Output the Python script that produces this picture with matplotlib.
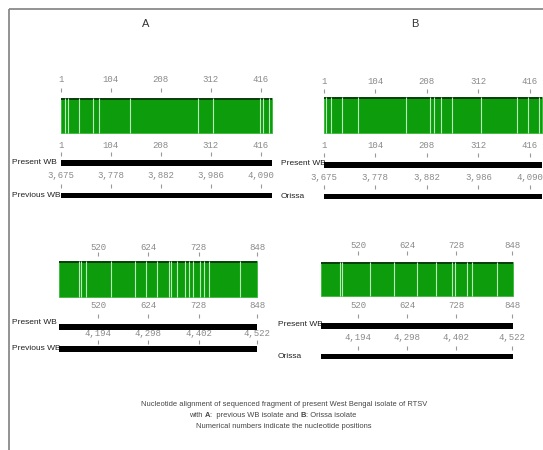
import matplotlib
matplotlib.use('Agg')
import matplotlib.pyplot as plt

W, H = 543, 450
fig = plt.figure(figsize=(W / 100, H / 100), dpi=100)
fig.patch.set_facecolor('white')

# ---------------- data ----------------
panel_titles = ['A', 'B']
query_name = 'Present WB'
ref_names = ['Previous WB', 'Orissa']
seg1_range = (1, 439)
seg2_range = (440, 848)
seg1_ticks = [1, 104, 208, 312, 416]
seg2_ticks = [520, 624, 728, 848]
seg1_ref_labels = ['3,675', '3,778', '3,882', '3,986', '4,090']
seg2_ref_labels = ['4,194', '4,298', '4,402', '4,522']
mism_A1 = [9, 16, 38, 68, 80, 144, 286, 317, 414, 421, 433]
mism_A2 = [480, 485, 495, 547, 596, 618, 642, 666, 671, 683, 700, 707,
           717, 731, 739, 750, 812]
mism_B1 = [6, 16, 37, 70, 166, 215, 223, 236, 258, 317, 390, 412, 435]
mism_B2 = [481, 485, 545, 597, 644, 685, 720, 726, 751, 763, 815]
caption1 = 'Nucleotide alignment of sequenced fragment of present West Bengal isolate of RTSV'
caption2_parts = [('with ', 'normal'), ('A', 'bold'),
                  (':  previous WB isolate and ', 'normal'),
                  ('B', 'bold'), (': Orissa isolate', 'normal')]
caption3 = 'Numerical numbers indicate the nucleotide positions'

GREEN = '#0c9c0c'
SANS = ['Liberation Sans', 'DejaVu Sans']
MONO = ['Liberation Mono', 'DejaVu Sans Mono']

# background axes in pixel units (layout only)
bg = fig.add_axes([0, 0, 1, 1])
bg.set_xlim(0, W)
bg.set_ylim(H, 0)
bg.axis('off')
bg.plot([8.5, W], [8.5, 8.5], color='#808080', lw=1.2, solid_capstyle='butt')
bg.plot([8.5, 8.5], [8.5, H], color='#808080', lw=1.2, solid_capstyle='butt')
bg.text(145.5, 24, panel_titles[0], ha='center', va='center', fontsize=8,
        color='#333333', family=SANS)
bg.text(415, 24, panel_titles[1], ha='center', va='center', fontsize=8,
        color='#333333', family=SANS)


def block_axes(p1, px1, p2, px2):
    ax = fig.add_axes([0, 0, 1, 1])
    s = (px2 - px1) / (p2 - p1)
    ax.set_xlim(p1 - px1 / s, p1 + (W - px1) / s)
    ax.set_ylim(H, 0)
    ax.axis('off')
    ax.patch.set_alpha(0)
    return ax


def ruler(ax, ticks, labels, y_lab, t0, t1):
    for p, lab in zip(ticks, labels):
        ax.text(p, y_lab, lab, ha='center', va='center', fontsize=6.5,
                color='#8a8a8a', family=MONO)
    ax.vlines(ticks, t0, t1, color='#999999', lw=0.8)


def draw_block(ax, rng, ticks, ref_labels, mism, ys):
    start, end = rng
    g0, g1 = ys['g']
    ax.barh((g0 + g1) / 2, end - start + 1, left=start - 0.5, height=g1 - g0,
            color=GREEN, edgecolor='#38b838', linewidth=0.6)
    ax.vlines(mism, g0, g1, color='#b8ecb8', lw=0.8)
    ax.barh(g0 + 1.2, end - start + 1, left=start - 0.5, height=2.4,
            color='#0b3f0b', linewidth=0)
    ruler(ax, ticks, [str(t) for t in ticks], ys['r1'], *ys['t1'])
    ruler(ax, ticks, [str(t) for t in ticks], ys['r2'], *ys['t2'])
    ruler(ax, ticks, ref_labels, ys['r3'], *ys['t3'])
    for b0, b1 in (ys['b1'], ys['b2']):
        ax.barh((b0 + b1) / 2, end - start + 1, left=start - 0.5,
                height=b1 - b0, color='black', linewidth=0)


blocks = [
    dict(map=(1, 61, 416, 261), rng=seg1_range, ticks=seg1_ticks,
         ref=seg1_ref_labels, mism=mism_A1, ref_name=ref_names[0], nx=12,
         ys=dict(r1=80, t1=(88, 92), g=(98, 133), r2=145, t2=(152, 156),
                 b1=(160, 166), r3=176, t3=(184, 188), b2=(193, 198),
                 n1=162, n2=195.5)),
    dict(map=(520, 98, 848, 257), rng=seg2_range, ticks=seg2_ticks,
         ref=seg2_ref_labels, mism=mism_A2, ref_name=ref_names[0], nx=12,
         ys=dict(r1=247, t1=(252, 256), g=(261, 297), r2=306, t2=(314, 318),
                 b1=(324, 330), r3=334, t3=(340, 344), b2=(346, 352),
                 n1=323, n2=349)),
    dict(map=(1, 324, 416, 530), rng=seg1_range, ticks=seg1_ticks,
         ref=seg1_ref_labels, mism=mism_B1, ref_name=ref_names[1], nx=281,
         ys=dict(r1=81, t1=(89, 93), g=(97, 133), r2=146, t2=(153, 157),
                 b1=(162, 168), r3=177, t3=(185, 189), b2=(194, 199),
                 n1=163.5, n2=196.5)),
    dict(map=(520, 358.3, 848, 512.3), rng=seg2_range, ticks=seg2_ticks,
         ref=seg2_ref_labels, mism=mism_B2, ref_name=ref_names[1], nx=278,
         ys=dict(r1=245, t1=(251, 255), g=(262, 296), r2=306, t2=(314, 318),
                 b1=(323, 329), r3=338, t3=(346, 350), b2=(354, 359),
                 n1=324, n2=356)),
]

for b in blocks:
    ax = block_axes(*b['map'])
    draw_block(ax, b['rng'], b['ticks'], b['ref'], b['mism'], b['ys'])
    bg.text(b['nx'], b['ys']['n1'], query_name, ha='left', va='center',
            fontsize=6, color='#222222', family=SANS)
    bg.text(b['nx'], b['ys']['n2'], b['ref_name'], ha='left', va='center',
            fontsize=6, color='#222222', family=SANS)

# caption
cap_kw = dict(fontsize=5.4, color='#444444', family=SANS)
bg.text(284, 405, caption1, ha='center', va='center', **cap_kw)
bg.text(284, 427, caption3, ha='center', va='center', **cap_kw)

texts = []
prev = bg.text(0, 419, caption2_parts[0][0], ha='left', va='bottom',
               fontweight=caption2_parts[0][1], **cap_kw)
texts.append(prev)
for txt, wt in caption2_parts[1:]:
    prev = bg.annotate(txt, xy=(1, 0), xycoords=prev, ha='left', va='bottom',
                       fontweight=wt, **cap_kw)
    texts.append(prev)
renderer = fig.canvas.get_renderer()
total = sum(t.get_window_extent(renderer).width for t in texts)
texts[0].set_x(273 - total / 2)

fig.savefig('out.png', dpi=100, facecolor='white')
